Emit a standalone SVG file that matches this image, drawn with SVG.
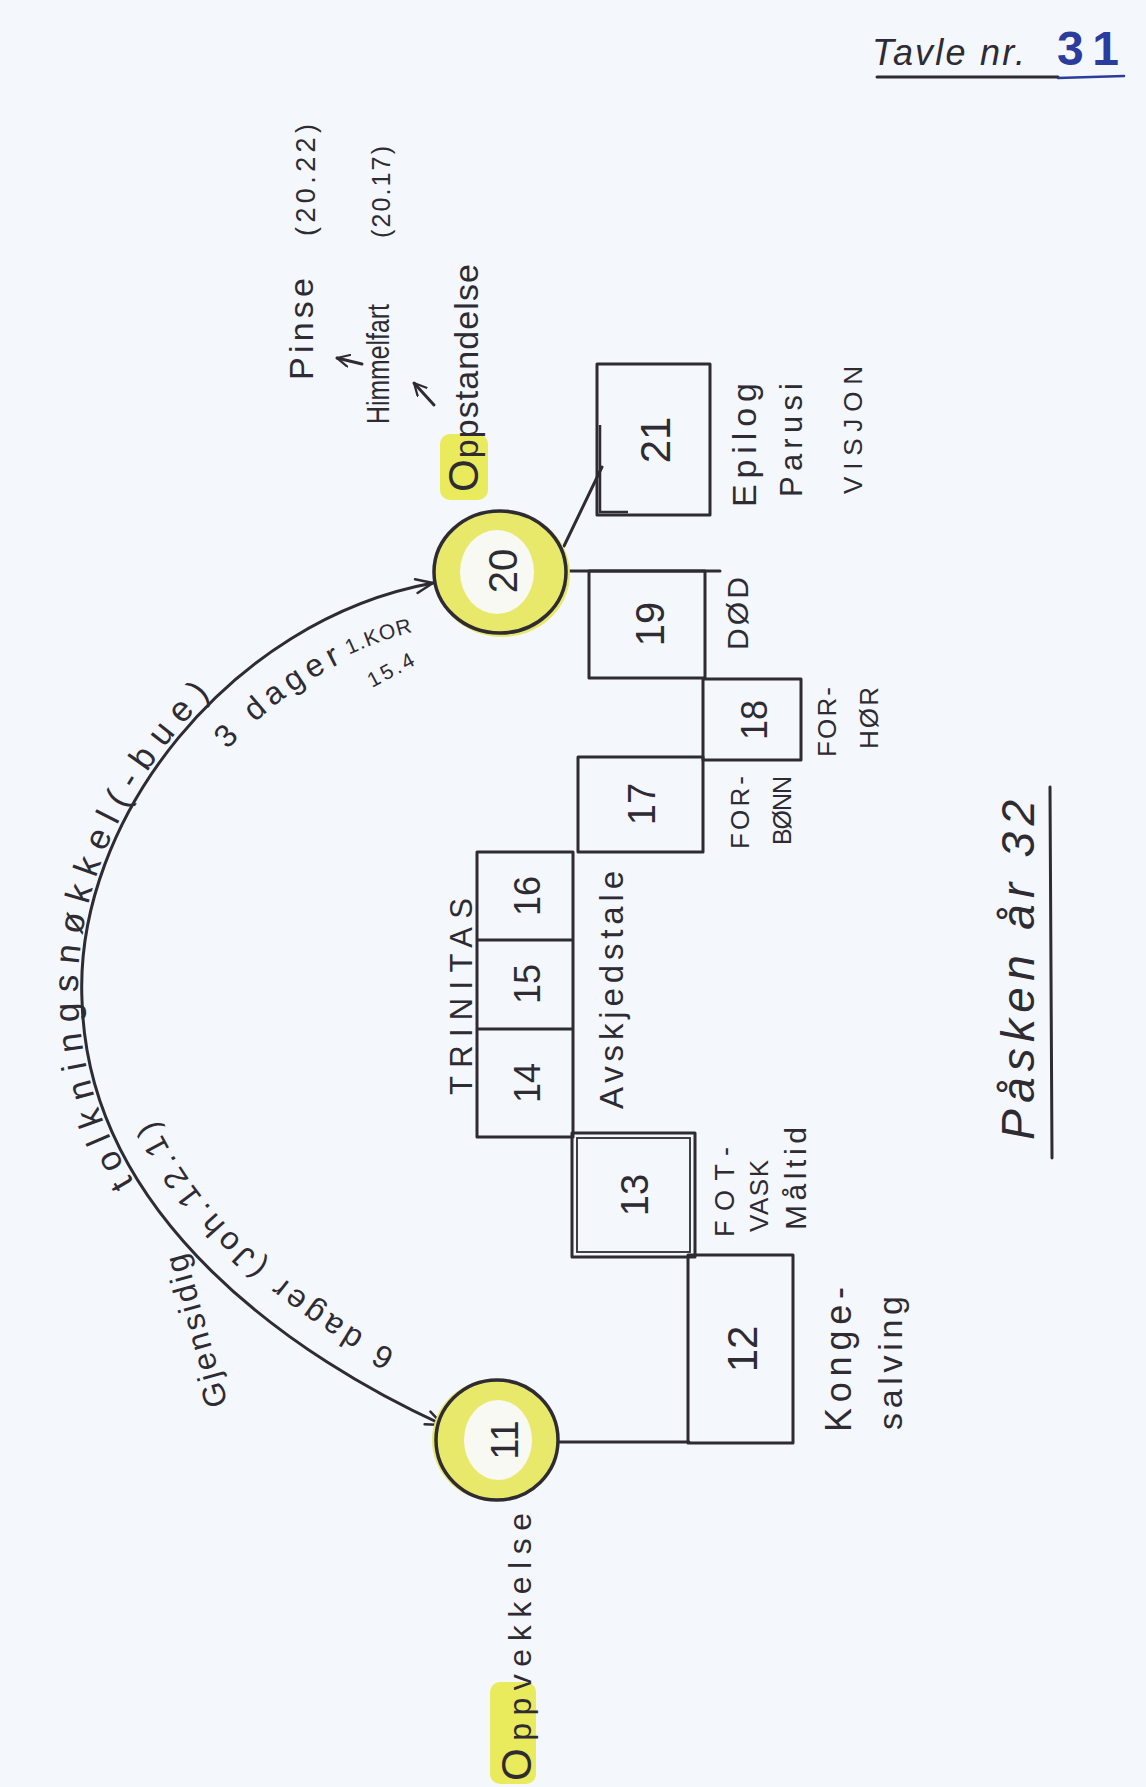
<svg xmlns="http://www.w3.org/2000/svg" xmlns:xlink="http://www.w3.org/1999/xlink" width="1146" height="1787" viewBox="0 0 1146 1787">
<style>
  .t { fill:#2e2b33; font-family:"Liberation Sans", Arial, sans-serif; }
  .num { fill:#2e2b33; font-family:"Liberation Sans", Arial, sans-serif; text-anchor:middle; dominant-baseline:central; }
  .box { fill:none; stroke:#2e2b33; stroke-width:3; stroke-linejoin:round; }
  .thin { fill:none; stroke:#2e2b33; stroke-width:1.8; }
  .line { fill:none; stroke:#2e2b33; stroke-width:3; stroke-linecap:round; }
  .hl { fill:#e9ea5c; }
  .ring { fill:#e8e96a; }
  .hole { fill:#f8f9f3; }
  .outline { fill:none; stroke:#2e2b33; stroke-width:3.5; }
</style>
<defs>
  <marker id="arr" viewBox="0 0 20 20" refX="19" refY="10" markerWidth="20" markerHeight="20" markerUnits="userSpaceOnUse" orient="auto-start-reverse">
    <path d="M2,3 L19,10 L2,17" fill="none" stroke="#2e2b33" stroke-width="2.5" stroke-linecap="round" stroke-linejoin="round"/>
  </marker>
  <marker id="arrS" viewBox="0 0 14 14" refX="13" refY="7" markerWidth="14" markerHeight="14" markerUnits="userSpaceOnUse" orient="auto">
    <path d="M1,1 L13,7 L1,13" fill="none" stroke="#2e2b33" stroke-width="2.2" stroke-linecap="round"/>
  </marker>
  <path id="outer" d="M442.7,1431.4 C297.6,1365.4 84.4,1223.3 78.4,1000 C70.2,817.3 226.5,614.3 432.6,576.7"/>
  <path id="inner" d="M445,1376.1 C318.4,1318.6 132.5,1194.7 127.2,1000 C120.2,840.7 256.4,663.7 436.1,631"/>
  <path id="gjpath" d="M228,1404 L182,1240"/>
</defs>

<rect x="0" y="0" width="1146" height="1787" fill="#f4f7fb"/>

<g id="title">
  <text class="t" x="872" y="65" font-size="36" font-style="italic" textLength="153" lengthAdjust="spacing">Tavle nr.</text>
  <text x="1057" y="65" font-size="48" fill="#2a3d9c" font-family="Liberation Sans, Arial, sans-serif" font-weight="bold" textLength="62" lengthAdjust="spacing">31</text>
  <path d="M877,77 L1058,77" class="line" stroke-width="2.5"/>
  <path d="M1058,78 L1124,76" fill="none" stroke="#2a3d9c" stroke-width="2.5" stroke-linecap="round"/>
</g>

<g id="connectors">
  <path id="arc" d="M443,1425 C300,1360 88,1220 82,1000 C74,820 230,620 433,583" class="line" marker-start="url(#arr)" marker-end="url(#arr)"/>
  <path d="M558,1442 H689" class="line"/>
  <path d="M566,571 H720" class="line"/>
  <path d="M564,546 L602,467" class="line"/>
  <path d="M362,364 L337,358" class="line" stroke-width="2.2" marker-end="url(#arrS)"/>
  <path d="M434,405 L414,383" class="line" stroke-width="2.2" marker-end="url(#arrS)"/>
</g>

<g id="arc-labels">
  <text class="t" font-size="32" letter-spacing="3"><textPath href="#gjpath" xlink:href="#gjpath" startOffset="0">Gjensidig</textPath></text>
  <text class="t" font-size="35" letter-spacing="10"><textPath href="#outer" xlink:href="#outer" startOffset="402">tolkningsnøkkel(-bue)</textPath></text>
  <text class="t" font-size="32" letter-spacing="4.6"><textPath href="#inner" xlink:href="#inner" startOffset="55">6 dager (Joh.12.1)</textPath></text>
  <text class="t"><textPath href="#inner" xlink:href="#inner" startOffset="795"><tspan font-size="32" letter-spacing="6">3 dager</tspan><tspan font-size="21" letter-spacing="1" dx="4" dy="-4">1.KOR</tspan></textPath></text>
  <text class="t" font-size="21" letter-spacing="3" transform="translate(372,688) rotate(-28)">15.4</text>
</g>

<g id="label-pinse">
  <text class="t" font-size="34" transform="translate(313,380) rotate(-90)" textLength="102" lengthAdjust="spacing">Pinse</text>
  <text class="t" font-size="27" transform="translate(315,236) rotate(-90)" textLength="112" lengthAdjust="spacing">(20.22)</text>
</g>
<g id="label-himmelfart">
  <text class="t" font-size="31" transform="translate(389,424) rotate(-90) scale(0.8,1)">Himmelfart</text>
  <text class="t" font-size="25" transform="translate(390,238) rotate(-90)" textLength="92" lengthAdjust="spacing">(20.17)</text>
</g>

<g id="node-20">
  <rect class="hl" x="440" y="434" width="48" height="66" rx="10"/>
  <text class="t" font-size="34" transform="translate(478,492) rotate(-90)" textLength="228" lengthAdjust="spacing"><tspan font-size="42">O</tspan>ppstandelse</text>
  <ellipse class="ring" cx="502" cy="574" rx="68" ry="63"/>
  <ellipse class="hole" cx="497" cy="572" rx="37" ry="42"/>
  <ellipse class="outline" cx="500" cy="572" rx="66" ry="61"/>
  <text class="num" font-size="40" transform="translate(503,571) rotate(-90)">20</text>
</g>

<g id="node-21">
  <rect class="box" x="597" y="364" width="113" height="151"/>
  <path d="M600,425 V512 H628" fill="none" stroke="#2e2b33" stroke-width="2.5"/>
  <text class="num" font-size="42" transform="translate(655,440) rotate(-90)">21</text>
  <text class="t" font-size="34" transform="translate(756,507) rotate(-90)" textLength="124" lengthAdjust="spacing">Epilog</text>
  <text class="t" font-size="31" transform="translate(802,497) rotate(-90)" textLength="114" lengthAdjust="spacing">Parusi</text>
  <text class="t" font-size="26" transform="translate(862,494) rotate(-90)" textLength="128" lengthAdjust="spacing">VISJON</text>
</g>

<g id="node-19">
  <rect class="box" x="589" y="571" width="116" height="107"/>
  <text class="num" font-size="40" transform="translate(650,624) rotate(-90)">19</text>
  <text class="t" font-size="30" transform="translate(748,650) rotate(-90)" textLength="73" lengthAdjust="spacing">DØD</text>
</g>

<g id="node-18">
  <rect class="box" x="703" y="679" width="98" height="81"/>
  <text class="num" font-size="36" transform="translate(754,720) rotate(-90)">18</text>
  <text class="t" font-size="26" transform="translate(836,757) rotate(-90)" textLength="70" lengthAdjust="spacing">FOR-</text>
  <text class="t" font-size="26" transform="translate(878,749) rotate(-90)" textLength="62" lengthAdjust="spacing">HØR</text>
</g>

<g id="node-17">
  <rect class="box" x="578" y="757" width="125" height="95"/>
  <text class="num" font-size="38" transform="translate(642,804) rotate(-90)">17</text>
  <text class="t" font-size="26" transform="translate(749,849) rotate(-90)" textLength="73" lengthAdjust="spacing">FOR-</text>
  <text class="t" font-size="25" transform="translate(791,845) rotate(-90)" textLength="69" lengthAdjust="spacing">BØNN</text>
</g>

<g id="node-trinitas">
  <rect class="box" x="477" y="852" width="96" height="285"/>
  <path class="box" d="M477,940 H573 M477,1029 H573"/>
  <text class="num" font-size="36" transform="translate(527,896) rotate(-90)">16</text>
  <text class="num" font-size="36" transform="translate(527,984) rotate(-90)">15</text>
  <text class="num" font-size="36" transform="translate(527,1083) rotate(-90)">14</text>
  <text class="t" font-size="31" transform="translate(472,1095) rotate(-90)" textLength="197" lengthAdjust="spacing">TRINITAS</text>
  <text class="t" font-size="33" transform="translate(623,1109) rotate(-90)" textLength="238" lengthAdjust="spacing">Avskjedstale</text>
</g>

<g id="node-13">
  <rect class="box" x="572" y="1133" width="123" height="124"/>
  <rect class="thin" x="577" y="1138" width="113" height="114"/>
  <text class="num" font-size="38" transform="translate(635,1195) rotate(-90)">13</text>
  <text class="t" font-size="27" transform="translate(734,1237) rotate(-90)" textLength="90" lengthAdjust="spacing">FOT-</text>
  <text class="t" font-size="26" transform="translate(768,1232) rotate(-90)" textLength="72" lengthAdjust="spacing">VASK</text>
  <text class="t" font-size="30" transform="translate(806,1230) rotate(-90)" textLength="103" lengthAdjust="spacing">Måltid</text>
</g>

<g id="node-12">
  <rect class="box" x="688" y="1255" width="105" height="188"/>
  <text class="num" font-size="42" transform="translate(742,1349) rotate(-90)">12</text>
  <text class="t" font-size="36" transform="translate(851,1432) rotate(-90)" textLength="145" lengthAdjust="spacing">Konge-</text>
  <text class="t" font-size="34" transform="translate(902,1430) rotate(-90)" textLength="134" lengthAdjust="spacing">salving</text>
</g>

<g id="node-11">
  <ellipse class="ring" cx="495" cy="1440" rx="63" ry="61"/>
  <ellipse class="hole" cx="498" cy="1440" rx="34" ry="40"/>
  <ellipse class="outline" cx="497" cy="1440" rx="61" ry="60"/>
  <text class="num" font-size="38" transform="translate(505,1440) rotate(-90)">11</text>
  <rect class="hl" x="490" y="1682" width="46" height="102" rx="10"/>
  <text class="t" font-size="32" transform="translate(531,1781) rotate(-90)" textLength="268" lengthAdjust="spacing"><tspan font-size="42">O</tspan>ppvekkelse</text>
</g>

<g id="caption">
  <text class="t" font-size="46" font-style="italic" transform="translate(1034,1140) rotate(-90)" textLength="340" lengthAdjust="spacing">Påsken år 32</text>
  <path d="M1050,787 L1052,1158" class="line"/>
</g>
</svg>
